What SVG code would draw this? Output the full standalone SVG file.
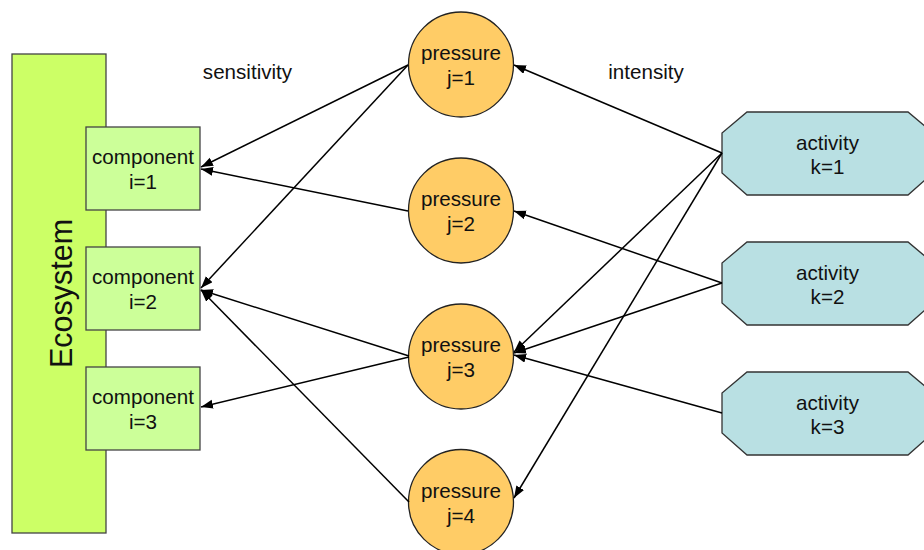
<svg xmlns="http://www.w3.org/2000/svg" width="924" height="550" viewBox="0 0 924 550">
<defs>
<marker id="arr" markerUnits="userSpaceOnUse" markerWidth="13" markerHeight="10" refX="12" refY="4.5" orient="auto">
<path d="M0,0 L12,4.5 L0,9 z" fill="#000"/>
</marker>
</defs>
<style>
text{font-family:"Liberation Sans",Arial,sans-serif;font-size:20.6px;fill:#111;text-anchor:middle}
.eco{fill:#CCFF66;stroke:#444;stroke-width:1.3}
.comp{fill:#CCFF99;stroke:#444;stroke-width:1.3}
.pres{fill:#FFCC66;stroke:#222;stroke-width:1.3}
.act{fill:#B9E0E3;stroke:#333;stroke-width:1.3}
.c{stroke:#000;stroke-width:1.5;fill:none;marker-end:url(#arr)}
</style>
<rect width="924" height="550" fill="#fff"/>
<g id="ecosystem">
<rect class="eco" x="12" y="54" width="94" height="479"/>
<text transform="translate(72,293.5) rotate(-90)" style="font-size:30.5px">Ecosystem</text>
</g>
<g id="component1">
<rect class="comp" x="86" y="127" width="114" height="83"/>
<text x="143" y="164">component</text><text x="143" y="189">i=1</text>
</g>
<g id="component2">
<rect class="comp" x="86" y="247" width="114" height="83"/>
<text x="143" y="284">component</text><text x="143" y="309">i=2</text>
</g>
<g id="component3">
<rect class="comp" x="86" y="367" width="114" height="83"/>
<text x="143" y="404">component</text><text x="143" y="429">i=3</text>
</g>
<g id="pressure1">
<circle class="pres" cx="461" cy="64.5" r="52.5"/>
<text x="461" y="60">pressure</text><text x="461" y="85">j=1</text>
</g>
<g id="pressure2">
<circle class="pres" cx="461" cy="210.5" r="52.5"/>
<text x="461" y="206">pressure</text><text x="461" y="231">j=2</text>
</g>
<g id="pressure3">
<circle class="pres" cx="461" cy="356.5" r="52.5"/>
<text x="461" y="352">pressure</text><text x="461" y="377">j=3</text>
</g>
<g id="pressure4">
<circle class="pres" cx="461" cy="502" r="52.5"/>
<text x="461" y="497.5">pressure</text><text x="461" y="522.5">j=4</text>
</g>
<g id="activity1">
<polygon class="act" points="747,112 908,112 933,133 933,173 908,195 747,195 722,173 722,133"/>
<text x="827.5" y="149.5">activity</text><text x="827.5" y="174">k=1</text>
</g>
<g id="activity2">
<polygon class="act" points="747,242 908,242 933,263 933,303 908,325 747,325 722,303 722,263"/>
<text x="827.5" y="279.5">activity</text><text x="827.5" y="304">k=2</text>
</g>
<g id="activity3">
<polygon class="act" points="747,372 908,372 933,393 933,433 908,455 747,455 722,433 722,393"/>
<text x="827.5" y="409.5">activity</text><text x="827.5" y="434">k=3</text>
</g>
<g id="labels">
<text x="247.5" y="79">sensitivity</text>
<text x="646" y="79">intensity</text>
</g>
<g id="connectors">
<path class="c" d="M408,65 L201,167"/>
<path class="c" d="M408,65 L201,288"/>
<path class="c" d="M408,211 L201,169"/>
<path class="c" d="M409,356 L201,290"/>
<path class="c" d="M409,357 L201,407"/>
<path class="c" d="M409,502 L201,290"/>
<path class="c" d="M722,153 L514,65"/>
<path class="c" d="M722,153 L514,352"/>
<path class="c" d="M722,153 L514,498"/>
<path class="c" d="M722,283 L514,211"/>
<path class="c" d="M722,283 L514,353"/>
<path class="c" d="M722,413 L514,355"/>
</g>
</svg>
